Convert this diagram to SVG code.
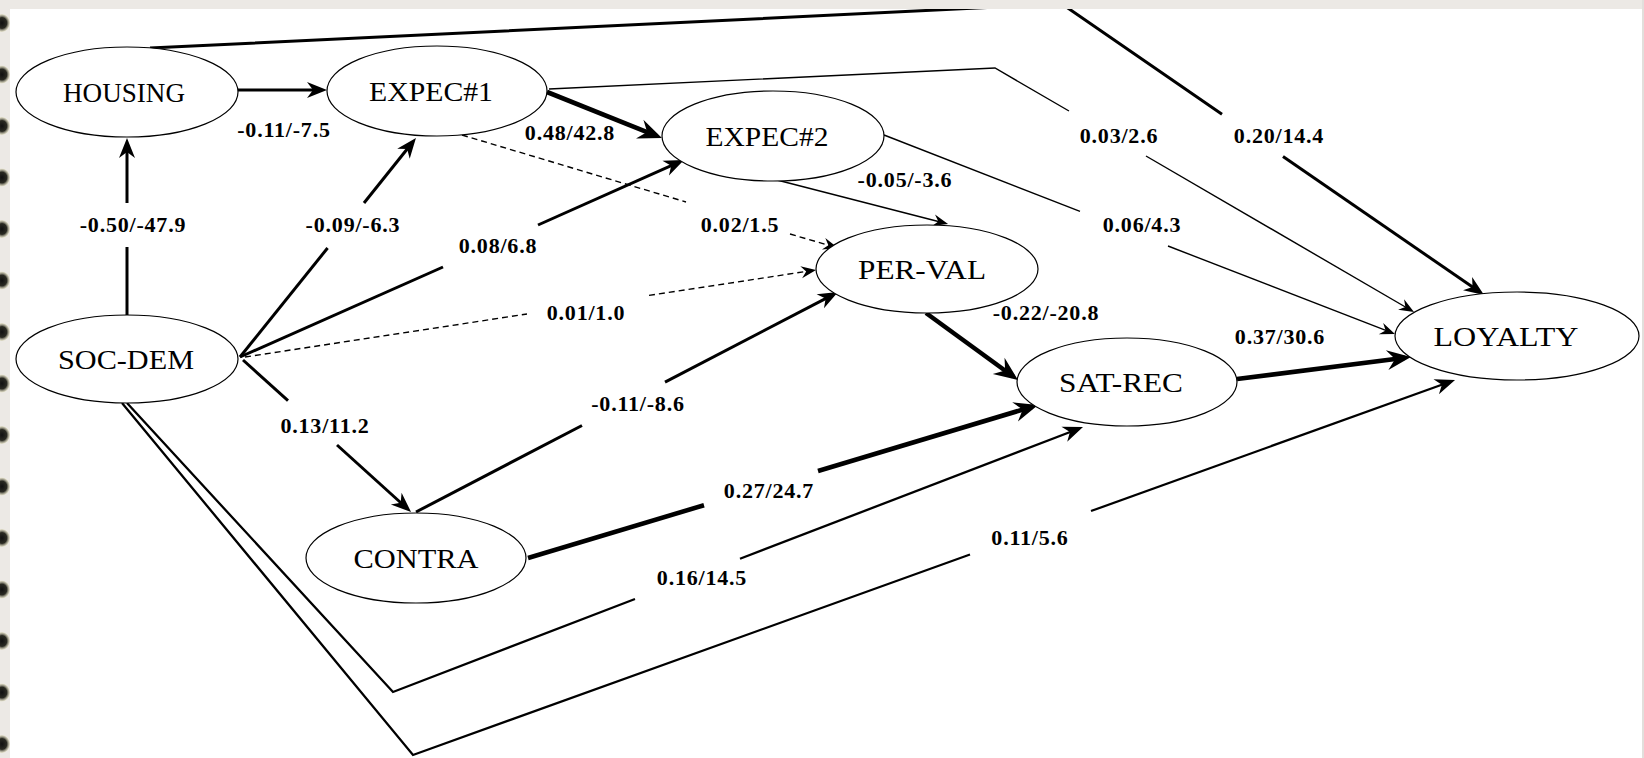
<svg xmlns="http://www.w3.org/2000/svg" width="1644" height="758" viewBox="0 0 1644 758">
<defs>
<style>
.node ellipse{fill:#fff;stroke:#000;stroke-width:1.2}
.node text{font-family:"Liberation Serif","Times New Roman",serif;font-size:28px;text-anchor:middle;fill:#000}
.edge{fill:none;stroke:#000;stroke-linecap:butt;stroke-linejoin:miter}
.w1{stroke-width:1.4}
.w2{stroke-width:2.3}
.w3{stroke-width:3}
.w4{stroke-width:4.6}
.dash{stroke-dasharray:6 4}
.lbl{font-family:"Liberation Serif","Times New Roman",serif;font-weight:bold;font-size:22px;letter-spacing:0.8px;text-anchor:middle;fill:#000}
.frame{fill:#ece9e5}
</style>
<marker id="aL" markerUnits="userSpaceOnUse" orient="auto" refX="0" refY="0" markerWidth="50" markerHeight="50" viewBox="-25 -25 50 50" overflow="visible"><path d="M6,0 L-18,-10 L-10,0 L-18,10 Z" fill="#000"/></marker>
<marker id="aM" markerUnits="userSpaceOnUse" orient="auto" refX="0" refY="0" markerWidth="50" markerHeight="50" viewBox="-25 -25 50 50" overflow="visible"><path d="M6,0 L-14,-8 L-8,0 L-14,8 Z" fill="#000"/></marker>
<marker id="aS" markerUnits="userSpaceOnUse" orient="auto" refX="0" refY="0" markerWidth="50" markerHeight="50" viewBox="-25 -25 50 50" overflow="visible"><path d="M5,0 L-10,-6 L-5,0 L-10,6 Z" fill="#000"/></marker>
<radialGradient id="dot" cx="0.5" cy="0.5" r="0.5">
<stop offset="0" stop-color="#111"/>
<stop offset="0.6" stop-color="#2a2a22"/>
<stop offset="1" stop-color="#e4e0c0" stop-opacity="0.6"/>
</radialGradient>
</defs>
<rect x="0" y="0" width="1644" height="758" fill="#fff"/>

<g id="connectors">
<!-- SOC-DEM -> HOUSING -->
<path class="edge w3" d="M127,315 L127,247"/>
<path class="edge w3" d="M127,203 L127,144" marker-end="url(#aM)"/>
<!-- HOUSING -> EXPEC#1 -->
<path class="edge w3" d="M238,90 L321,90" marker-end="url(#aM)"/>
<!-- SOC-DEM -> EXPEC#1 -->
<path class="edge w3" d="M240,357 L327.6,248"/>
<path class="edge w3" d="M364,203 L412.2,142.7" marker-end="url(#aM)"/>
<!-- EXPEC#1 -> EXPEC#2 -->
<path class="edge w4" d="M547,92 L656.4,135.8" marker-end="url(#aL)"/>
<!-- SOC-DEM -> EXPEC#2 -->
<path class="edge w3" d="M240,357 L443,267"/>
<path class="edge w3" d="M538,225 L678.5,162.4" marker-end="url(#aM)"/>
<!-- EXPEC#1 -> PER-VAL (dashed) -->
<path class="edge w1 dash" d="M462,135 L686,202"/>
<path class="edge w1 dash" d="M790,234 L833.2,246.6" marker-end="url(#aS)"/>
<!-- EXPEC#2 -> PER-VAL -->
<path class="edge w1" d="M777,180 L943.2,222.8" marker-end="url(#aS)"/>
<!-- EXPEC#2 -> LOYALTY -->
<path class="edge w1" d="M884,135 L1080,211.3"/>
<path class="edge w1" d="M1168,246 L1390.3,332.2" marker-end="url(#aS)"/>
<!-- EXPEC#1 -> LOYALTY -->
<path class="edge w1" d="M549,89 L995,68 L1069,111"/>
<path class="edge w1" d="M1146,156 L1409.7,309.5" marker-end="url(#aS)"/>
<!-- HOUSING -> LOYALTY -->
<path class="edge w3" d="M150,48 L1062,4 L1222,114.3"/>
<path class="edge w3" d="M1283,156.4 L1479.1,291.6" marker-end="url(#aM)"/>
<!-- PER-VAL -> SAT-REC -->
<path class="edge w4" d="M926,313 L1013.2,376.5" marker-end="url(#aL)"/>
<!-- SOC-DEM -> PER-VAL (dashed) -->
<path class="edge w1 dash" d="M245,357 L527,314"/>
<path class="edge w1 dash" d="M649,295.4 L811.1,270.7" marker-end="url(#aS)"/>
<!-- SOC-DEM -> CONTRA -->
<path class="edge w3" d="M243,360 L288,400.7"/>
<path class="edge w3" d="M337,445 L406.6,508" marker-end="url(#aM)"/>
<!-- CONTRA -> PER-VAL -->
<path class="edge w3" d="M416,512 L582,425.5"/>
<path class="edge w3" d="M665,382.2 L832.7,294.8" marker-end="url(#aM)"/>
<!-- CONTRA -> SAT-REC -->
<path class="edge w4" d="M528,558 L704,505.2"/>
<path class="edge w4" d="M818,471 L1032.3,406.7" marker-end="url(#aL)"/>
<!-- SOC-DEM -> SAT-REC -->
<path class="edge w2" d="M127,403 L393,692 L635,599"/>
<path class="edge w2" d="M740,558.7 L1077.4,429.2" marker-end="url(#aM)"/>
<!-- SOC-DEM -> LOYALTY -->
<path class="edge w2" d="M122,403 L413,755 L970,554.5"/>
<path class="edge w2" d="M1091,511 L1449.4,382" marker-end="url(#aM)"/>
<!-- SAT-REC -> LOYALTY -->
<path class="edge w4" d="M1237,379 L1405,357.8" marker-end="url(#aL)"/>

<g id="edge-labels">
<text class="lbl" x="133" y="232">-0.50/-47.9</text>
<text class="lbl" x="284" y="137">-0.11/-7.5</text>
<text class="lbl" x="353" y="232">-0.09/-6.3</text>
<text class="lbl" x="570" y="140">0.48/42.8</text>
<text class="lbl" x="498" y="253">0.08/6.8</text>
<text class="lbl" x="905" y="187">-0.05/-3.6</text>
<text class="lbl" x="740" y="232">0.02/1.5</text>
<text class="lbl" x="586" y="320">0.01/1.0</text>
<text class="lbl" x="1119" y="143">0.03/2.6</text>
<text class="lbl" x="1279" y="143">0.20/14.4</text>
<text class="lbl" x="1142" y="232">0.06/4.3</text>
<text class="lbl" x="1046" y="320">-0.22/-20.8</text>
<text class="lbl" x="1280" y="344">0.37/30.6</text>
<text class="lbl" x="325" y="433">0.13/11.2</text>
<text class="lbl" x="638" y="411">-0.11/-8.6</text>
<text class="lbl" x="769" y="498">0.27/24.7</text>
<text class="lbl" x="702" y="585">0.16/14.5</text>
<text class="lbl" x="1030" y="545">0.11/5.6</text>
</g>
</g>

<g id="n-housing" class="node"><ellipse cx="127" cy="92" rx="111" ry="45"/><text x="124" y="101.5" textLength="122" lengthAdjust="spacingAndGlyphs">HOUSING</text></g>
<g id="n-expec1" class="node"><ellipse cx="437" cy="91" rx="110" ry="45"/><text x="431" y="100.5" textLength="124" lengthAdjust="spacingAndGlyphs">EXPEC#1</text></g>
<g id="n-expec2" class="node"><ellipse cx="773" cy="136" rx="111" ry="45"/><text x="767" y="145.5" textLength="123" lengthAdjust="spacingAndGlyphs">EXPEC#2</text></g>
<g id="n-perval" class="node"><ellipse cx="927" cy="269" rx="111" ry="44"/><text x="922" y="278.5" textLength="128" lengthAdjust="spacingAndGlyphs">PER-VAL</text></g>
<g id="n-satrec" class="node"><ellipse cx="1127" cy="382" rx="110" ry="44"/><text x="1121" y="391.5" textLength="124" lengthAdjust="spacingAndGlyphs">SAT-REC</text></g>
<g id="n-loyalty" class="node"><ellipse cx="1517" cy="336" rx="122" ry="44"/><text x="1506" y="345.5" textLength="145" lengthAdjust="spacingAndGlyphs">LOYALTY</text></g>
<g id="n-socdem" class="node"><ellipse cx="127" cy="359" rx="111" ry="44"/><text x="126" y="368.5" textLength="136" lengthAdjust="spacingAndGlyphs">SOC-DEM</text></g>
<g id="n-contra" class="node"><ellipse cx="416" cy="558" rx="110" ry="45"/><text x="416" y="567.5" textLength="125" lengthAdjust="spacingAndGlyphs">CONTRA</text></g>

<g id="frame">
<rect class="frame" x="0" y="0" width="1644" height="9"/>
<rect class="frame" x="0" y="0" width="10" height="758"/>
<rect x="1642" y="0" width="2" height="758" fill="#e2dfdc"/>
<g fill="url(#dot)">
<ellipse cx="2" cy="23" rx="8" ry="9"/>
<ellipse cx="2" cy="74.5" rx="8" ry="9"/>
<ellipse cx="2" cy="126" rx="8" ry="9"/>
<ellipse cx="2" cy="177.5" rx="8" ry="9"/>
<ellipse cx="2" cy="229" rx="8" ry="9"/>
<ellipse cx="2" cy="280.5" rx="8" ry="9"/>
<ellipse cx="2" cy="332" rx="8" ry="9"/>
<ellipse cx="2" cy="383.5" rx="8" ry="9"/>
<ellipse cx="2" cy="435" rx="8" ry="9"/>
<ellipse cx="2" cy="486.5" rx="8" ry="9"/>
<ellipse cx="2" cy="538" rx="8" ry="9"/>
<ellipse cx="2" cy="589.5" rx="8" ry="9"/>
<ellipse cx="2" cy="641" rx="8" ry="9"/>
<ellipse cx="2" cy="692.5" rx="8" ry="9"/>
<ellipse cx="2" cy="744" rx="8" ry="9"/>
</g>
</g>
</svg>
